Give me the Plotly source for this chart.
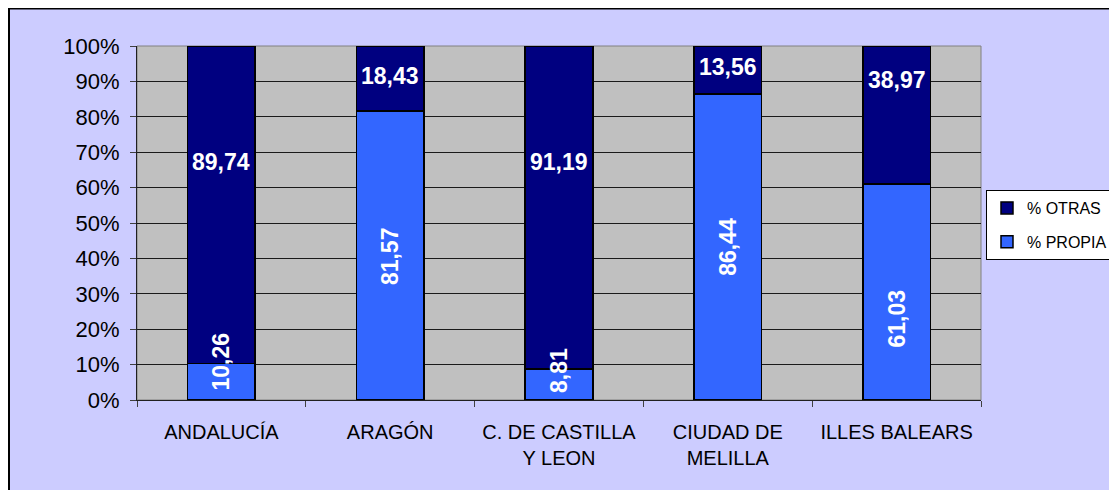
import plotly.graph_objects as go

categories = ["ANDALUCÍA", "ARAGÓN", "C. DE CASTILLA<br>Y LEON", "CIUDAD DE<br>MELILLA", "ILLES BALEARS"]
propia = [10.26, 81.57, 8.81, 86.44, 61.03]
otras = [89.74, 18.43, 91.19, 13.56, 38.97]
y_ticks = [0, 10, 20, 30, 40, 50, 60, 70, 80, 90, 100]

# data-label positions (in % of axis)
propia_label_pos = [11.0, 40.7, 8.2, 43.2, 22.9]
otras_label_pos = [67.2, 91.5, 67.2, 94.2, 90.4]

FONT = "Liberation Sans, Arial, sans-serif"
C_OTRAS = "#000080"
C_PROPIA = "#3366FF"

fig = go.Figure()
fig.add_trace(go.Bar(x=categories, y=propia, name="% PROPIA", legendrank=2, legendgroup="p",
                     marker=dict(color=C_PROPIA, line=dict(color="black", width=1.5)), hoverinfo="skip"))
fig.add_trace(go.Bar(x=categories, y=otras, name="% OTRAS", legendrank=1, legendgroup="o",
                     marker=dict(color=C_OTRAS, line=dict(color="black", width=1.5)), hoverinfo="skip"))

def fmt(v):
    return f"{v:.2f}".replace(".", ",")

LBL = dict(color="white", size=23, family=FONT)
ann = []
for c, p, o, pp, op in zip(categories, propia, otras, propia_label_pos, otras_label_pos):
    ann.append(dict(x=c, y=pp, yanchor="middle", xanchor="center", text=f"<b>{fmt(p)}</b>", textangle=-90,
                    showarrow=False, font=LBL))
    ann.append(dict(x=c, y=op, yanchor="middle", xanchor="center", text=f"<b>{fmt(o)}</b>",
                    showarrow=False, font=LBL))

# figure coordinates (page adds an 8px body margin)
W, H = 1117, 490
L, R, T, B = 129, 144, 38, 98
pw, ph = W - L - R, H - T - B

def px_x(px):
    return (px - L) / pw

def px_y(py):
    return (H - B - py) / ph

shapes = [
    dict(type="rect", xref="paper", yref="paper", x0=px_x(1), x1=px_x(W + 20), y0=px_y(0.5), y1=px_y(H + 20),
         line=dict(color="black", width=2), fillcolor="rgba(0,0,0,0)", layer="below"),
    dict(type="rect", xref="paper", yref="paper", x0=0, x1=1, y0=0, y1=1,
         line=dict(color="#808080", width=1), fillcolor="rgba(0,0,0,0)", layer="below"),
]

fig.update_layout(
    width=W, height=H,
    margin=dict(l=L, r=R, t=T, b=B, autoexpand=False),
    barmode="stack",
    bargap=0.6,
    paper_bgcolor="#CCCCFF",
    plot_bgcolor="#C0C0C0",
    font=dict(family=FONT, color="black"),
    annotations=ann,
    shapes=shapes,
    showlegend=True,
    legend=dict(x=px_x(1105), y=px_y(182), xanchor="right", yanchor="top",
                bgcolor="white", bordercolor="black", borderwidth=1,
                font=dict(size=16, family=FONT), traceorder="grouped",
                itemwidth=30, tracegroupgap=10),
    xaxis=dict(tickfont=dict(size=20, family=FONT), showgrid=False, ticks="outside", tickson="boundaries",
               ticklen=6, tickcolor="#404040", showline=True, linecolor="#202020", linewidth=1,
               ticklabelstandoff=14, automargin=False),
    yaxis=dict(range=[0, 100], tickvals=y_ticks, ticktext=[f"{v}%" for v in y_ticks],
               tickfont=dict(size=22, family=FONT), showgrid=True, gridcolor="#1a1a1a", gridwidth=1,
               ticks="outside", ticklen=6, tickcolor="#404040", showline=True, linecolor="#202020",
               linewidth=1, zeroline=False, ticklabelstandoff=6, automargin=False),
)

fig.write_html("out.html")
